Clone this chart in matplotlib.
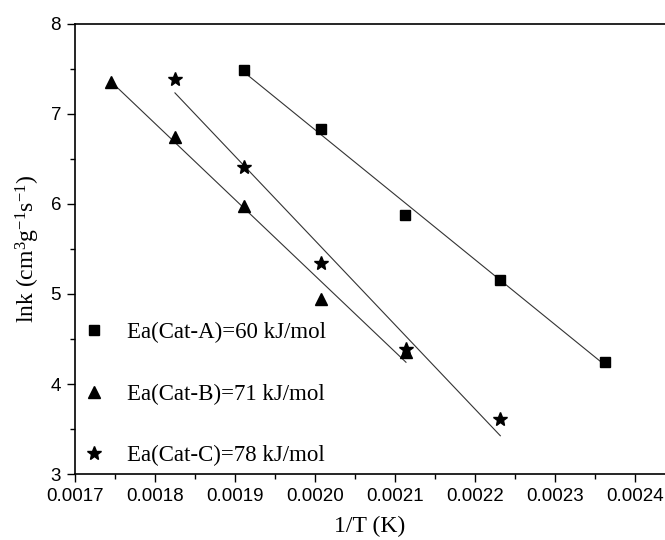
import numpy as np
import matplotlib
matplotlib.use("Agg")
import matplotlib.pyplot as plt
from matplotlib.ticker import MultipleLocator, FormatStrFormatter

plt.rcParams['mathtext.fontset'] = 'custom'
plt.rcParams['mathtext.rm'] = 'Liberation Serif'
plt.rcParams['mathtext.default'] = 'regular'

# 1/T values (K^-1) and lnk for each catalyst
x_a = [0.001911, 0.002008, 0.002113, 0.002232, 0.002363]
y_a = [7.49, 6.83, 5.88, 5.16, 4.25]
x_b = [0.001745, 0.001825, 0.001911, 0.002008, 0.002114]
y_b = [7.36, 6.74, 5.98, 4.94, 4.36]
x_c = [0.001825, 0.001911, 0.002008, 0.002114, 0.002232]
y_c = [7.39, 6.41, 5.34, 4.39, 3.61]
labels = ['Ea(Cat-A)=60 kJ/mol', 'Ea(Cat-B)=71 kJ/mol', 'Ea(Cat-C)=78 kJ/mol']

fig = plt.figure(figsize=(6.65, 5.4), dpi=100)
ax = fig.add_axes([0.1128, 0.1222, 0.8872, 0.8334])

series = [(x_a, y_a, 's', 7), (x_b, y_b, '^', 9), (x_c, y_c, '*', 10)]
for (xs, ys, m, ms), lab in zip(series, labels):
    xs = np.array(xs)
    ys = np.array(ys)
    k, b = np.polyfit(xs, ys, 1)
    xl = np.array([xs.min(), xs.max()])
    ax.plot(xl, k * xl + b, color='#333333', lw=0.8, zorder=1)
    ax.plot(xs, ys, ls='none', marker=m, ms=ms, color='k', label=lab, zorder=2)

ax.set_xlim(0.0017, 0.002438)
ax.set_ylim(3, 8)
ax.xaxis.set_major_locator(MultipleLocator(0.0001))
ax.xaxis.set_minor_locator(MultipleLocator(0.00005))
ax.yaxis.set_major_locator(MultipleLocator(1))
ax.yaxis.set_minor_locator(MultipleLocator(0.5))
ax.xaxis.set_major_formatter(FormatStrFormatter('%.4f'))
ax.tick_params(which='major', length=6, width=1, labelsize=13.5, direction='out', pad=4)
ax.tick_params(which='minor', length=3.5, width=1, direction='out')
for t in ax.get_xticklabels() + ax.get_yticklabels():
    t.set_fontfamily('Liberation Sans')
ax.spines['right'].set_visible(False)
for s in ['left', 'bottom', 'top']:
    ax.spines[s].set_linewidth(1.2)

ax.set_xlabel('1/T (K)', fontfamily='Liberation Serif', fontsize=17, labelpad=8)
ax.set_ylabel('lnk (cm$^3$g$^{-1}$s$^{-1}$)', fontfamily='Liberation Serif', fontsize=17, labelpad=6)

ax.legend(loc='lower left', bbox_to_anchor=(0.0, 0.0), frameon=False,
          prop={'family': 'Liberation Serif', 'size': 16.5},
          labelspacing=1.75, handletextpad=0.9, borderpad=0.25, borderaxespad=0.1,
          handlelength=1.0)

fig.savefig('out.png', dpi=100)
